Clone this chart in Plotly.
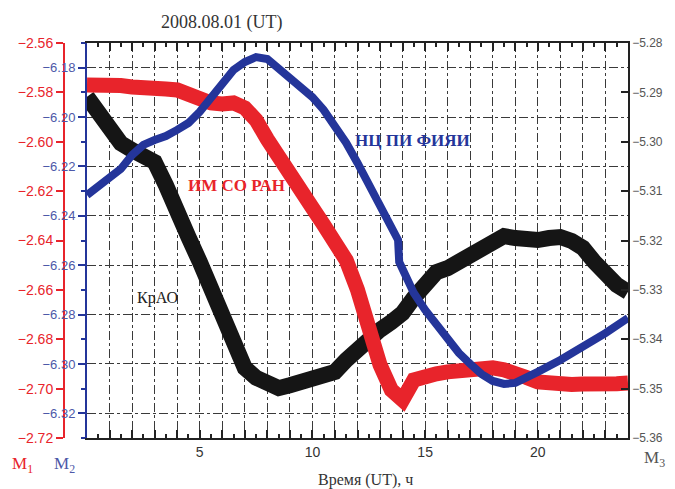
import plotly.graph_objects as go

# ---------------- data ----------------
hours = [0, 0.5, 1, 1.5, 2, 2.5, 3, 3.5, 4, 4.5, 5, 5.5, 6, 6.5, 7, 7.5, 8, 8.5,
         9, 9.5, 10, 10.5, 11, 11.5, 12, 12.5, 13, 13.5, 14, 14.5, 15, 15.5, 16,
         16.5, 17, 17.5, 18, 18.5, 19, 19.5, 20, 20.5, 21, 21.5, 22, 22.5, 23,
         23.5, 24]

# ИМ СО РАН (M1, red)
red_vals = [-2.5770, -2.5768, -2.5774, -2.5772, -2.5778, -2.5776, -2.5782, -2.5786,
            -2.5790, -2.5811, -2.5831, -2.5843, -2.5847, -2.5843, -2.5863, -2.5912,
            -2.5990, -2.6055, -2.6114, -2.6195, -2.6268, -2.6337, -2.6398, -2.6480,
            -2.6600, -2.6762, -2.6904, -2.7005, -2.7046, -2.6965, -2.6945, -2.6940,
            -2.6932, -2.6925, -2.6916, -2.6912, -2.6916, -2.6924, -2.6932, -2.6955,
            -2.6973, -2.6980, -2.6985, -2.6983, -2.6981, -2.6985, -2.6985, -2.6980,
            -2.6977]

# НЦ ПИ ФИЯИ (M2, blue)
blue_hours = [0, 0.5, 1, 1.5, 2, 2.5, 3, 3.5, 4, 4.5, 5, 5.5, 6, 6.5, 7, 7.5, 8,
              8.5, 9, 9.5, 10, 10.5, 11, 11.5, 12, 12.5, 13, 13.5, 13.8, 13.85, 14,
              14.5, 15, 15.5, 16, 16.5, 17, 17.5, 18, 18.5, 19, 19.5, 20, 21, 22,
              23, 24]
blue_vals = [-6.2316, -6.2283, -6.2247, -6.2210, -6.2154, -6.2113, -6.2093, -6.2077,
             -6.2052, -6.2024, -6.1979, -6.1919, -6.1862, -6.1809, -6.1777, -6.1757,
             -6.1765, -6.1801, -6.1838, -6.1878, -6.1919, -6.1971, -6.2032, -6.2105,
             -6.2186, -6.2275, -6.2364, -6.2445, -6.2498, -6.2587, -6.2619, -6.2713,
             -6.2781, -6.2842, -6.2903, -6.2956, -6.3000, -6.3041, -6.3069, -6.3081,
             -6.3077, -6.3057, -6.3032, -6.2984, -6.2931, -6.2875, -6.2814]

# КрАО (M3, black)
black_vals = [-5.2909, -5.2940, -5.2976, -5.3003, -5.3017, -5.3027, -5.3041, -5.3088,
              -5.3148, -5.3193, -5.3243, -5.3300, -5.3357, -5.3422, -5.3458, -5.3478,
              -5.3493, -5.3499, -5.3493, -5.3486, -5.3478, -5.3478, -5.3466, -5.3442,
              -5.3418, -5.3397, -5.3381, -5.3365, -5.3347, -5.3316, -5.3284, -5.3264,
              -5.3256, -5.3243, -5.3223, -5.3211, -5.3201, -5.3191, -5.3195, -5.3201,
              -5.3199, -5.3195, -5.3193, -5.3201, -5.3215, -5.3243, -5.3270, -5.3290,
              -5.3304]

x_tick_labels = {5: "5", 10: "10", 15: "15", 20: "20"}

# ---------------- style ----------------
W, H = 675, 489
ML, MR, MT, MB = 60, 47, 43, 51
PW = W - ML - MR
PH = H - MT - MB
PLOT_LEFT = 87


def fx(px):
    return (px - ML) / PW


def fy(py):
    return (H - MB - py) / PH


RED = "#e8242b"
BLUE = "#24359a"
BLUE_LBL = "#4d58a8"
BLACK = "#151515"
GRID = "#3a3a3a"

fig = go.Figure()
# order: black (main y, M3) -> red (y2, M1) -> blue (y3, M2) on top
fig.add_trace(go.Scatter(x=hours, y=black_vals, xaxis="x", yaxis="y", mode="lines",
                         line=dict(color=BLACK, width=16), showlegend=False))
fig.add_trace(go.Scatter(x=hours, y=red_vals, xaxis="x", yaxis="y2", mode="lines",
                         line=dict(color=RED, width=15), showlegend=False))
fig.add_trace(go.Scatter(x=blue_hours, y=blue_vals, xaxis="x", yaxis="y3", mode="lines",
                         line=dict(color=BLUE, width=8), showlegend=False))

tv = list(range(0, 25))
fig.update_layout(
    width=W, height=H,
    margin=dict(l=ML, r=MR, t=MT, b=MB),
    paper_bgcolor="white", plot_bgcolor="white",
    font=dict(family="Liberation Sans, Arial", size=14, color="#333"),
    xaxis=dict(
        domain=[fx(PLOT_LEFT), 1], range=[0, 24],
        tickmode="array", tickvals=tv, ticktext=[x_tick_labels.get(v, "") for v in tv],
        ticks="inside", ticklen=8, tickwidth=1.5, tickcolor="#222",
        showgrid=True, gridcolor=GRID, gridwidth=1.4, griddash="dashdot",
        showline=True, linecolor="#222", linewidth=1.5, mirror="ticks",
        minor=dict(tickmode="linear", tick0=0.5, dtick=1, ticks="inside", ticklen=4,
                   tickcolor="#222", showgrid=False),
        tickfont=dict(size=14, color="#333"),
        zeroline=False,
    ),
    # M3 (right)
    yaxis=dict(
        range=[-5.36, -5.28], side="right", anchor="x",
        tickmode="linear", tick0=-5.28, dtick=0.01, tickformat=".2f",
        ticks="inside", ticklen=7, tickwidth=1.5, tickcolor="#222",
        showline=True, linecolor="#222", linewidth=1.5, showgrid=False,
        tickfont=dict(size=12, color="#555"), zeroline=False,
    ),
    # M1 (outer left, red)
    yaxis2=dict(
        range=[-2.72, -2.56], overlaying="y", anchor="free", position=fx(64),
        side="left", tickmode="linear", tick0=-2.56, dtick=0.02, tickformat=".2f",
        ticks="outside", ticklen=7, tickwidth=1.5, tickcolor=RED,
        showline=True, linecolor=RED, linewidth=2, showgrid=False,
        tickfont=dict(size=14, color=RED), zeroline=False,
    ),
    # M2 (inner left, blue) with horizontal grid
    yaxis3=dict(
        range=[-6.33, -6.17], overlaying="y", anchor="x", side="left",
        tickmode="linear", tick0=-6.18, dtick=0.02, tickformat=".2f",
        ticks="outside", ticklen=7, tickwidth=1.5, tickcolor=BLUE,
        showline=True, linecolor=BLUE, linewidth=2,
        showgrid=True, gridcolor=GRID, gridwidth=1.4, griddash="dashdot",
        minor=dict(tickmode="linear", tick0=-6.19, dtick=0.02, ticks="outside",
                   ticklen=4, tickcolor=BLUE, showgrid=False),
        tickfont=dict(size=13, color=BLUE_LBL), zeroline=False,
    ),
)

SERIF = "Liberation Serif, Times New Roman, serif"
ann = [
    dict(text="2008.08.01 (UT)", x=fx(221), y=fy(23), size=18, color="#333"),
    dict(text="Время (UT), ч", x=fx(365), y=fy(480), size=16, color="#333"),
    dict(text="M<sub>1</sub>", x=fx(22), y=fy(465), size=17, color=RED),
    dict(text="M<sub>2</sub>", x=fx(64), y=fy(465), size=17, color=BLUE_LBL),
    dict(text="M<sub>3</sub>", x=fx(654), y=fy(459), size=17, color="#555"),
    dict(text="<b>ИМ СО РАН</b>", x=fx(236), y=fy(185), size=17, color=RED),
    dict(text="<b>НЦ ПИ ФИЯИ</b>", x=fx(412), y=fy(140), size=17, color=BLUE),
    dict(text="КрАО", x=fx(157), y=fy(298), size=16, color="#222"),
]
for a in ann:
    fig.add_annotation(text=a["text"], x=a["x"], y=a["y"], xref="paper", yref="paper",
                       showarrow=False, xanchor="center", yanchor="middle",
                       font=dict(family=SERIF, size=a["size"], color=a["color"]))

fig.write_html("out.html")
